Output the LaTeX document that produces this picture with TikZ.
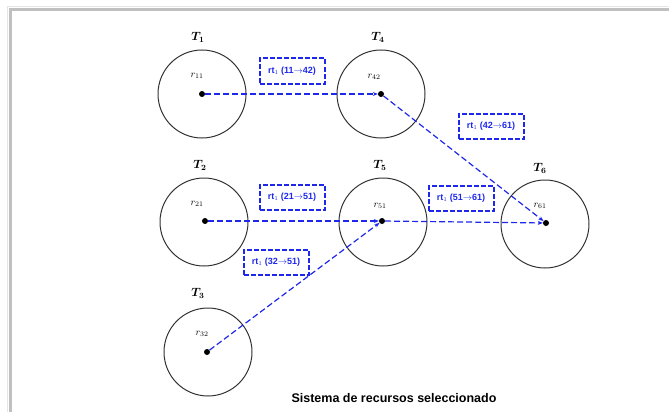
\documentclass[tikz,border=0pt]{standalone}
\usepackage{amsmath}
\usepackage{fontspec}
\setsansfont{Liberation Sans}
\usetikzlibrary{arrows.meta}
\definecolor{linkblue}{RGB}{30,40,235}
\definecolor{framegray}{RGB}{192,192,192}
\tikzset{
  site/.style={circle,draw=black!80,line width=1pt,minimum size=88pt,inner sep=0pt},
  hub/.style={circle,fill=black,inner sep=0pt,minimum size=6pt},
  sitename/.style={font=\fontsize{12}{14}\selectfont,inner sep=1pt},
  resname/.style={font=\fontsize{10}{12}\selectfont,inner sep=1pt},
  routebox/.style={draw=linkblue,dash pattern=on 5pt off 2pt,line width=2pt,text=linkblue,
    font=\sffamily\bfseries\fontsize{9}{10}\selectfont,minimum width=65pt,minimum height=25pt,inner sep=1pt},
  route/.style={draw=linkblue,dash pattern=on 6pt off 3pt,line width=1.2pt,-{Stealth[length=5pt,width=4pt]}},
}
\begin{document}
\begin{tikzpicture}[x=1pt,y=-1pt]
\useasboundingbox (0,0) rectangle (669,412);
% outer frame
\draw[framegray,line width=3pt] (10,412) -- (10,10) -- (669,10);
\draw[black!10,line width=1pt] (7,412) -- (7,7) -- (669,7);

% sites
\node[site] (c1) at (202,94) {};
\node[site] (c4) at (381,94) {};
\node[site] (c2) at (204,222) {};
\node[site] (c5) at (383,222) {};
\node[site] (c6) at (545,224) {};
\node[site] (c3) at (208,352) {};

% resource points
\node[hub] (p11) at (202,94) {};
\node[hub] (p42) at (381,94) {};
\node[hub] (p21) at (205,221) {};
\node[hub] (p51) at (382,221) {};
\node[hub] (p61) at (546,223) {};
\node[hub] (p32) at (207,352) {};

% site names
\node[sitename] (n1) at (198,37) {$\boldsymbol{T_1}$};
\node[sitename] (n4) at (378,37) {$\boldsymbol{T_4}$};
\node[sitename] (n2) at (200,165) {$\boldsymbol{T_2}$};
\node[sitename] (n5) at (380,165) {$\boldsymbol{T_5}$};
\node[sitename] (n6) at (540,168) {$\boldsymbol{T_6}$};
\node[sitename] (n3) at (198,293) {$\boldsymbol{T_3}$};

% resource names
\node[resname] (l11) at (197,76) {$r_{11}$};
\node[resname] (l42) at (374,77) {$r_{42}$};
\node[resname] (l21) at (197,204) {$r_{21}$};
\node[resname] (l51) at (380,206) {$r_{51}$};
\node[resname] (l61) at (540,206) {$r_{61}$};
\node[resname] (l32) at (202,334) {$r_{32}$};

% route labels
\node[routebox] (b1) at (292,71) {rt$_1$ (11$\rightarrow$42)};
\node[routebox] (b2) at (491,126) {rt$_1$ (42$\rightarrow$61)};
\node[routebox] (b3) at (292,197) {rt$_1$ (21$\rightarrow$51)};
\node[routebox] (b4) at (461,198) {rt$_1$ (51$\rightarrow$61)};
\node[routebox] (b5) at (276,262) {rt$_1$ (32$\rightarrow$51)};

% routes
\draw[route] (p11) -- (p42);
\draw[route] (p42) -- (p61);
\draw[route] (p21) -- (p51);
\draw[route] (p51) -- (p61);
\draw[route] (p32) -- (p51);

% caption
\node[font=\sffamily\bfseries\fontsize{12.5}{14}\selectfont] (cap) at (394,398) {Sistema de recursos seleccionado};
\end{tikzpicture}
\end{document}
